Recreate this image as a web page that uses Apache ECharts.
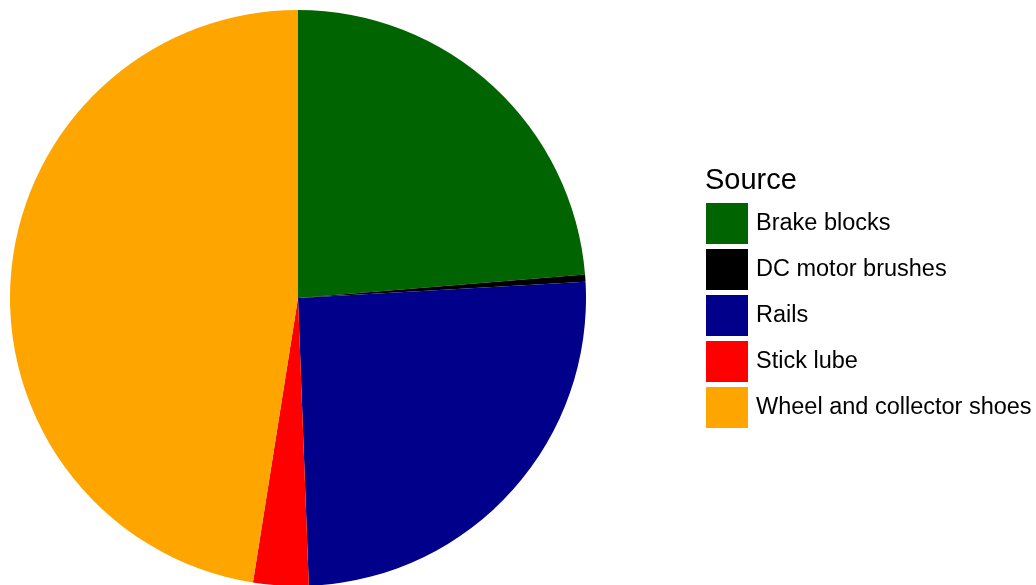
<!DOCTYPE html>
<html><head><meta charset="utf-8">
<script src="https://cdn.jsdelivr.net/npm/echarts@6/dist/echarts.min.js"></script>
<style>html,body{margin:0;padding:0;background:#fff}#c{width:1036px;height:585px}</style>
</head><body><div id="c"></div>
<script>
const categories = ["Brake blocks","DC motor brushes","Rails","Stick lube","Wheel and collector shoes"];
const values = [23.7, 0.4, 25.3, 3.1, 47.5];
const colors = ["#006400","#000000","#00008B","#FF0000","#FFA500"];
const legendTitle = "Source";

const chart = echarts.init(document.getElementById('c'), null, {renderer:'canvas'});
chart.setOption({
  animation:false,
  backgroundColor:'#ffffff',
  title:{text:legendTitle,left:700,top:161,textStyle:{fontFamily:'Liberation Sans, Arial',fontSize:29,fontWeight:'normal',color:'#000'}},
  legend:{
    orient:'vertical',left:701,top:198,itemWidth:42,itemHeight:41,itemGap:5,
    icon:'rect',selectedMode:false,
    textStyle:{fontFamily:'Liberation Sans, Arial',fontSize:23.5,color:'#000',padding:[0,0,0,3]},
    data:categories
  },
  series:[{
    type:'pie',center:[298,298],radius:[0,288],startAngle:90,clockwise:true,
    label:{show:false},labelLine:{show:false},emphasis:{disabled:true},
    itemStyle:{borderWidth:0},
    data:categories.map((n,i)=>({name:n,value:values[i],itemStyle:{color:colors[i]}}))
  }]
});
</script></body></html>
